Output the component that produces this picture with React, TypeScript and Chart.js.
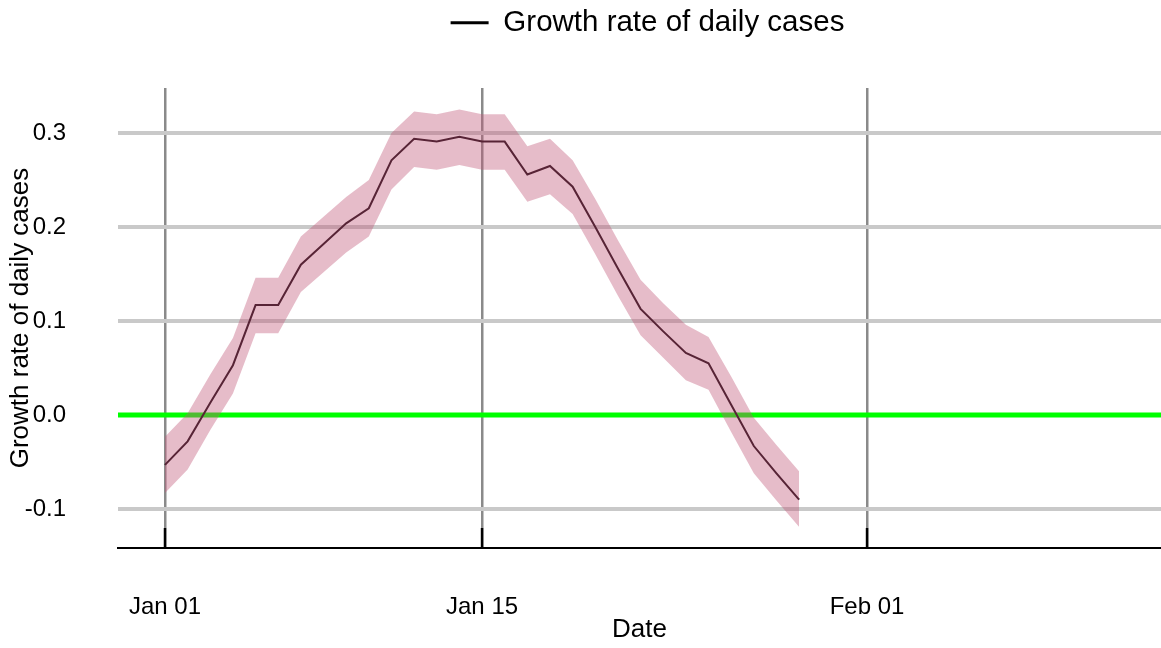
import { useEffect, useRef } from 'react';
import { Chart, registerables } from 'chart.js';

Chart.register(...registerables);

const dates = [
  '2021-01-01', '2021-01-02', '2021-01-03', '2021-01-04', '2021-01-05', '2021-01-06',
  '2021-01-07', '2021-01-08', '2021-01-09', '2021-01-10', '2021-01-11', '2021-01-12',
  '2021-01-13', '2021-01-14', '2021-01-15', '2021-01-16', '2021-01-17', '2021-01-18',
  '2021-01-19', '2021-01-20', '2021-01-21', '2021-01-22', '2021-01-23', '2021-01-24',
  '2021-01-25', '2021-01-26', '2021-01-27', '2021-01-28', '2021-01-29',
];

const growthRate = [
  -0.053, -0.028, 0.013, 0.053, 0.117, 0.117, 0.160, 0.182, 0.204, 0.220,
  0.271, 0.294, 0.291, 0.296, 0.291, 0.291, 0.256, 0.265, 0.243, 0.200,
  0.156, 0.113, 0.089, 0.066, 0.055, 0.011, -0.033, -0.062, -0.090,
];

const lowerBound = [
  -0.083, -0.058, -0.016, 0.023, 0.087, 0.087, 0.131, 0.152, 0.173, 0.190,
  0.240, 0.264, 0.261, 0.266, 0.261, 0.261, 0.227, 0.235, 0.214, 0.171,
  0.127, 0.085, 0.061, 0.037, 0.027, -0.018, -0.062, -0.091, -0.119,
];

const upperBound = [
  -0.023, 0.002, 0.043, 0.082, 0.146, 0.146, 0.190, 0.211, 0.232, 0.250,
  0.300, 0.323, 0.320, 0.325, 0.320, 0.320, 0.286, 0.294, 0.271, 0.230,
  0.186, 0.144, 0.119, 0.096, 0.083, 0.041, -0.003, -0.032, -0.060,
];

const xTickDates = ['2021-01-01', '2021-01-15', '2021-02-01'];
const xTickLabels = ['Jan 01', 'Jan 15', 'Feb 01'];
const yTickValues = [-0.1, 0, 0.1, 0.2, 0.3];

const xMinDay = -2.075;
const xMaxDay = 43.98;
const yMin = -0.1415;
const yMax = 0.348;

const seriesLabel = 'Growth rate of daily cases';

const dayOf = (s: string) => (Date.parse(s) - Date.parse(dates[0])) / 86400000;
const xTickDays = xTickDates.map(dayOf);

export default function App() {
  const canvasRef = useRef<HTMLCanvasElement | null>(null);

  useEffect(() => {
    const canvas = canvasRef.current;
    if (!canvas) return;
    Chart.defaults.font.family = '"Liberation Sans", Arial, sans-serif';
    Chart.defaults.color = '#000000';

    const pts = (vals: number[]) => vals.map((v, i) => ({ x: dayOf(dates[i]), y: v }));

    const innerTicks = {
      id: 'innerTicks',
      afterLayout(chart: any) {
        if (chart.legend) {
          chart.legend.left += 8;
          chart.legend.right += 8;
        }
      },
      beforeDatasetDraw(chart: any, args: any) {
        if (args.index !== 2) return;
        const { ctx, chartArea, scales } = chart;
        const y0 = scales.y.getPixelForValue(0);
        ctx.save();
        ctx.strokeStyle = '#00ff00';
        ctx.lineWidth = 5;
        ctx.beginPath();
        ctx.moveTo(chartArea.left, y0);
        ctx.lineTo(chartArea.right, y0);
        ctx.stroke();
        ctx.restore();
      },
      afterDatasetsDraw(chart: any) {
        const { ctx, chartArea, scales } = chart;
        ctx.save();
        ctx.strokeStyle = '#000000';
        ctx.lineWidth = 2.5;
        xTickDays.forEach((d) => {
          const x = scales.x.getPixelForValue(d);
          ctx.beginPath();
          ctx.moveTo(x, chartArea.bottom - 20);
          ctx.lineTo(x, chartArea.bottom);
          ctx.stroke();
        });
        ctx.restore();
      },
    };

    const chart = new Chart(canvas, {
      type: 'line',
      data: {
        datasets: [
          {
            label: 'lower',
            data: pts(lowerBound),
            borderWidth: 0,
            pointRadius: 0,
            fill: false,
            backgroundColor: 'rgba(0,0,0,0)',
            borderColor: 'rgba(0,0,0,0)',
          },
          {
            label: 'upper',
            data: pts(upperBound),
            borderWidth: 0,
            pointRadius: 0,
            fill: '-1',
            backgroundColor: 'rgba(193,88,119,0.4)',
            borderColor: 'rgba(0,0,0,0)',
          },
          {
            label: seriesLabel,
            data: pts(growthRate),
            borderColor: '#12020a',
            backgroundColor: '#12020a',
            borderWidth: 2,
            pointRadius: 0,
            tension: 0,
            fill: false,
          },
        ],
      },
      options: {
        animation: false,
        responsive: false,
        maintainAspectRatio: false,
        layout: { padding: { top: 0, left: 0, right: 0, bottom: 0 } },
        plugins: {
          tooltip: { enabled: false },
          legend: {
            display: true,
            position: 'top',
            fullSize: false,
            labels: {
              font: { size: 29.5 },
              boxWidth: 38,
              boxHeight: 3,
              padding: 8,
              color: '#000000',
              generateLabels: () => [
                {
                  text: seriesLabel,
                  fillStyle: '#000000',
                  strokeStyle: '#000000',
                  lineWidth: 0,
                  hidden: false,
                  datasetIndex: 2,
                },
              ],
            },
          },
          title: {
            display: true,
            text: '',
            position: 'top',
            weight: 0,
            fullSize: false,
            font: { size: 1, lineHeight: 1 },
            padding: { top: 0, bottom: 39.5 },
          },
        },
        scales: {
          x: {
            type: 'linear',
            min: xMinDay,
            max: xMaxDay,
            afterBuildTicks: (scale: any) => {
              scale.ticks = xTickDays.map((v) => ({ value: v }));
            },
            afterFit: (scale: any) => {
              scale.height = 100;
            },
            grid: {
              color: '#8a8a8a',
              lineWidth: 2.5,
              drawTicks: false,
            },
            border: { display: true, color: '#000000', width: 2 },
            ticks: {
              padding: 44.6,
              font: { size: 24 },
              color: '#000000',
              maxRotation: 0,
              autoSkip: false,
              callback: (v: any) => {
                const i = xTickDays.indexOf(Number(v));
                return i >= 0 ? xTickLabels[i] : '';
              },
            },
            title: {
              display: true,
              text: 'Date',
              font: { size: 26 },
              color: '#000000',
              padding: { top: 0, bottom: 2.4 },
            },
          },
          y: {
            type: 'linear',
            min: yMin,
            max: yMax,
            afterBuildTicks: (scale: any) => {
              scale.ticks = yTickValues.map((v) => ({ value: v }));
            },
            afterFit: (scale: any) => {
              scale.width = 118;
            },
            grid: {
              color: (c: any) => (c.tick && c.tick.value === 0 ? 'rgba(0,0,0,0)' : '#c9c9c9'),
              lineWidth: 4,
              drawTicks: false,
            },
            border: { display: false },
            ticks: {
              padding: 52,
              font: { size: 24 },
              color: '#000000',
              callback: (v: any) => Number(v).toFixed(1),
            },
            title: {
              display: true,
              text: seriesLabel,
              font: { size: 26 },
              color: '#000000',
              padding: { top: 5, bottom: 0 },
            },
          },
        },
      },
      plugins: [innerTicks],
    } as any);

    return () => chart.destroy();
  }, []);

  return (
    <canvas
      ref={canvasRef}
      width={1161}
      height={648}
      style={{ position: 'absolute', left: 0, top: 0, display: 'block' }}
    />
  );
}
